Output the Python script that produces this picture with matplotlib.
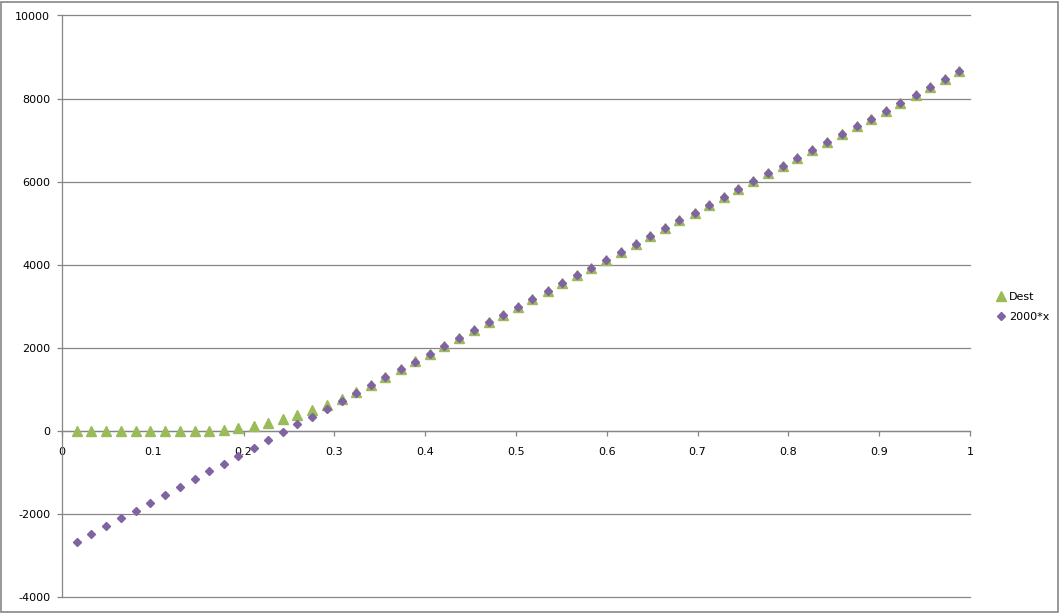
import matplotlib
matplotlib.use('Agg')
import matplotlib.pyplot as plt
from matplotlib.patches import Rectangle

X_VALUES = [0.016, 0.032, 0.049, 0.065, 0.081, 0.097, 0.113, 0.130, 0.146, 0.162,
            0.178, 0.194, 0.211, 0.227, 0.243, 0.259, 0.275, 0.292, 0.308, 0.324,
            0.340, 0.356, 0.373, 0.389, 0.405, 0.421, 0.437, 0.454, 0.470, 0.486,
            0.502, 0.518, 0.535, 0.551, 0.567, 0.583, 0.599, 0.616, 0.632, 0.648,
            0.664, 0.680, 0.697, 0.713, 0.729, 0.745, 0.761, 0.778, 0.794, 0.810,
            0.826, 0.842, 0.859, 0.875, 0.891, 0.907, 0.923, 0.940, 0.956, 0.972,
            0.988]

DEST = [0, 0, 0, 0, 0, 0, 0, 0, 0, 0,
        32, 72, 128, 192, 280, 385, 497, 633, 777, 937,
        1115, 1300, 1486, 1672, 1858, 2046, 2235, 2423, 2611, 2800,
        2988, 3177, 3366, 3554, 3743, 3932, 4121, 4310, 4498, 4687,
        4876, 5065, 5254, 5442, 5631, 5820, 6009, 6198, 6386, 6575,
        6764, 6953, 7142, 7330, 7519, 7708, 7897, 8086, 8274, 8463,
        8652]

LINEAR = [-2676, -2487, -2298, -2110, -1921, -1732, -1543, -1354, -1166, -977,
          -788, -599, -410, -222, -33, 156, 345, 534, 722, 911,
          1100, 1289, 1478, 1666, 1855, 2044, 2233, 2422, 2610, 2799,
          2988, 3177, 3366, 3554, 3743, 3932, 4121, 4310, 4498, 4687,
          4876, 5065, 5254, 5442, 5631, 5820, 6009, 6198, 6386, 6575,
          6764, 6953, 7142, 7330, 7519, 7708, 7897, 8086, 8274, 8463,
          8652]

X_TICKS = [0, 0.1, 0.2, 0.3, 0.4, 0.5, 0.6, 0.7, 0.8, 0.9, 1]
X_LABELS = ['0', '0.1', '0.2', '0.3', '0.4', '0.5', '0.6', '0.7', '0.8', '0.9', '1']
Y_TICKS = [-4000, -2000, 0, 2000, 4000, 6000, 8000, 10000]

GREEN = '#9BBB59'
PURPLE = '#8064A2'
GRAY = '#868686'

W, H = 1061, 614
fig = plt.figure(figsize=(W / 100, H / 100), dpi=100)
ax = fig.add_axes([62 / W, 1 - 597 / H, (970 - 62) / W, (597 - 15.5) / H])

ax.plot(X_VALUES, DEST, linestyle='none', marker='^', markersize=7.5,
        color=GREEN, label='Dest', zorder=3)
ax.plot(X_VALUES, LINEAR, linestyle='none', marker='D', markersize=4,
        color=PURPLE, label='2000*x', zorder=4)

ax.set_xlim(0, 1)
ax.set_ylim(-4000, 10000)
ax.set_xticks(X_TICKS)
ax.set_xticklabels(X_LABELS)
ax.set_yticks(Y_TICKS)
ax.set_yticklabels([str(v) for v in Y_TICKS])

ax.grid(axis='y', color=GRAY, linewidth=0.9, clip_on=False)
for line in ax.get_ygridlines():
    line.set_clip_on(False)
ax.set_axisbelow(True)

ax.spines['top'].set_visible(False)
ax.spines['right'].set_visible(False)
ax.spines['bottom'].set_position(('data', 0))
for s in ('left', 'bottom'):
    ax.spines[s].set_color(GRAY)
    ax.spines[s].set_linewidth(0.9)

ax.tick_params(axis='both', colors=GRAY, labelcolor='black', labelsize=8,
               direction='out', length=3.5, width=0.9)
ax.tick_params(axis='x', pad=8)
ax.tick_params(axis='y', pad=5)

fig.legend(loc='center left', bbox_to_anchor=(990 / W, 1 - 307 / H),
           frameon=False, fontsize=8, handletextpad=0.1, labelspacing=0.9,
           handlelength=1.2, borderaxespad=0)

fig.patches.append(Rectangle((1 / W, 2 / H), 1057 / W, 610 / H,
                             transform=fig.transFigure, fill=False,
                             edgecolor=GRAY, linewidth=1.2))

fig.savefig('out.png', dpi=100)
